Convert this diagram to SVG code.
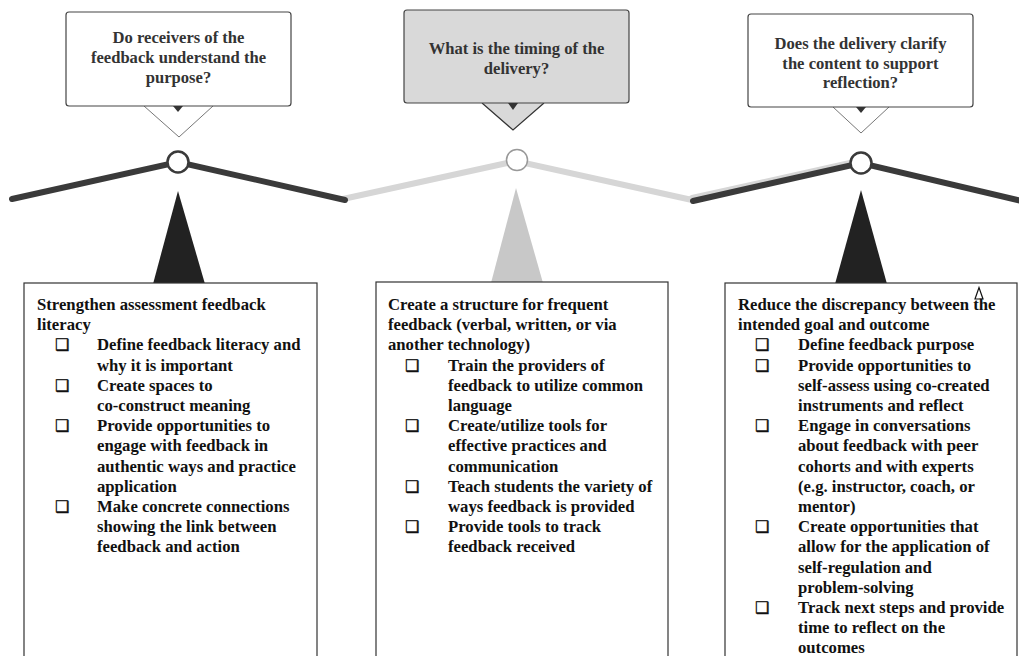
<svg xmlns="http://www.w3.org/2000/svg" width="1019" height="656" viewBox="0 0 1019 656">
<style>
.q{font-family:"Liberation Serif","Times New Roman",serif;font-weight:bold;font-size:16.6px;fill:#333;text-anchor:middle}
.t{font-family:"Liberation Serif","Times New Roman",serif;font-weight:bold;font-size:16.7px;fill:#111}
.b{font-family:"DejaVu Sans",sans-serif;font-size:16px;fill:#111;stroke:#111;stroke-width:0.4}
.call{fill:#fff;stroke:#444;stroke-width:1.2}
.ptr{fill:#fff;stroke:#777;stroke-width:1}
.box{fill:#fff;stroke:#333;stroke-width:1.2}
.dk{stroke:#3a3a3a;stroke-width:6;stroke-linecap:round;fill:none}
.lt{stroke:#d6d6d6;stroke-width:6;stroke-linecap:round;fill:none}
</style>
<rect width="1019" height="656" fill="#fff"/>
<g id="connectors">
  <polyline class="lt" points="343,199 516,161 692,200"/>
  <polyline class="lt" points="692,198 850,163"/>
  <polyline class="dk" points="12,199 178,162 345,200"/>
  <polyline class="dk" points="693,201 861,163 1030,203"/>
</g>
<g id="pivot1">
  <polygon points="178,191 153,284 205,284" fill="#222"/>
  <circle cx="178" cy="162" r="10.5" fill="#fff" stroke="#3a3a3a" stroke-width="2.5"/>
</g>
<g id="pivot2">
  <polygon points="516,188 491,283 543,283" fill="#c8c8c8"/>
  <circle cx="517" cy="160" r="10.5" fill="#fff" stroke="#999" stroke-width="1.5"/>
</g>
<g id="pivot3">
  <polygon points="861,190 835,284 887,284" fill="#222"/>
  <circle cx="861" cy="163" r="10.5" fill="#fff" stroke="#3a3a3a" stroke-width="2.5"/>
</g>
<g id="q1">
  <path class="ptr" d="M144,106 L179,137 L213,106"/>
  <rect class="call" x="66" y="12" width="225" height="94" rx="3"/>
  <polygon points="173,106 183,106 178,112" fill="#333"/>
  <text class="q" x="178.5" y="43">Do receivers of the</text>
  <text class="q" x="178.5" y="63">feedback understand the</text>
  <text class="q" x="178.5" y="83">purpose?</text>
</g>
<g id="q2">
  <path d="M482,103 L513,130 L544,103" fill="#d9d9d9" stroke="#333" stroke-width="1.2"/>
  <rect x="404" y="10" width="225" height="93" rx="3" fill="#d9d9d9" stroke="#444" stroke-width="1.2"/>
  <polygon points="508,103 518,103 513,110" fill="#333"/>
  <text class="q" x="516.5" y="54">What is the timing of the</text>
  <text class="q" x="516.5" y="74">delivery?</text>
</g>
<g id="q3">
  <path class="ptr" d="M833,107 L861,133 L889,107"/>
  <rect class="call" x="748" y="14" width="225" height="93" rx="3"/>
  <polygon points="856,107 866,107 861,113" fill="#333"/>
  <text class="q" x="860.5" y="49">Does the delivery clarify</text>
  <text class="q" x="860.5" y="69">the content to support</text>
  <text class="q" x="860.5" y="88">reflection?</text>
</g>
<g id="box1">
  <rect class="box" x="24" y="283" width="293" height="400"/>
  <text class="t" x="37" y="310">Strengthen assessment feedback</text>
  <text class="t" x="37" y="330.2">literacy</text>
  <text class="b" x="55" y="350.4">❑</text>
  <text class="t" x="97" y="350.4">Define feedback literacy and</text>
  <text class="t" x="97" y="370.6">why it is important</text>
  <text class="b" x="55" y="390.8">❑</text>
  <text class="t" x="97" y="390.8">Create spaces to</text>
  <text class="t" x="97" y="411">co-construct meaning</text>
  <text class="b" x="55" y="431.2">❑</text>
  <text class="t" x="97" y="431.2">Provide opportunities to</text>
  <text class="t" x="97" y="451.4">engage with feedback in</text>
  <text class="t" x="97" y="471.6">authentic ways and practice</text>
  <text class="t" x="97" y="491.8">application</text>
  <text class="b" x="55" y="512">❑</text>
  <text class="t" x="97" y="512">Make concrete connections</text>
  <text class="t" x="97" y="532.2">showing the link between</text>
  <text class="t" x="97" y="552.4">feedback and action</text>
</g>
<g id="box2">
  <rect class="box" x="376" y="282" width="292" height="400"/>
  <text class="t" x="388" y="310">Create a structure for frequent</text>
  <text class="t" x="388" y="330.2">feedback (verbal, written, or via</text>
  <text class="t" x="388" y="350.4">another technology)</text>
  <text class="b" x="405" y="370.6">❑</text>
  <text class="t" x="448" y="370.6">Train the providers of</text>
  <text class="t" x="448" y="390.8">feedback to utilize common</text>
  <text class="t" x="448" y="411">language</text>
  <text class="b" x="405" y="431.2">❑</text>
  <text class="t" x="448" y="431.2">Create/utilize tools for</text>
  <text class="t" x="448" y="451.4">effective practices and</text>
  <text class="t" x="448" y="471.6">communication</text>
  <text class="b" x="405" y="491.8">❑</text>
  <text class="t" x="448" y="491.8">Teach students the variety of</text>
  <text class="t" x="448" y="512">ways feedback is provided</text>
  <text class="b" x="405" y="532.2">❑</text>
  <text class="t" x="448" y="532.2">Provide tools to track</text>
  <text class="t" x="448" y="552.4">feedback received</text>
</g>
<g id="box3">
  <rect class="box" x="725" y="283" width="292" height="400"/>
  <text class="t" x="738" y="310">Reduce the discrepancy between the</text>
  <text class="t" x="738" y="330.2">intended goal and outcome</text>
  <text class="b" x="755" y="350.4">❑</text>
  <text class="t" x="798" y="350.4">Define feedback purpose</text>
  <text class="b" x="755" y="370.6">❑</text>
  <text class="t" x="798" y="370.6">Provide opportunities to</text>
  <text class="t" x="798" y="390.8">self-assess using co-created</text>
  <text class="t" x="798" y="411">instruments and reflect</text>
  <text class="b" x="755" y="431.2">❑</text>
  <text class="t" x="798" y="431.2">Engage in conversations</text>
  <text class="t" x="798" y="451.4">about feedback with peer</text>
  <text class="t" x="798" y="471.6">cohorts and with experts</text>
  <text class="t" x="798" y="491.8">(e.g. instructor, coach, or</text>
  <text class="t" x="798" y="512">mentor)</text>
  <text class="b" x="755" y="532.2">❑</text>
  <text class="t" x="798" y="532.2">Create opportunities that</text>
  <text class="t" x="798" y="552.4">allow for the application of</text>
  <text class="t" x="798" y="572.6">self-regulation and</text>
  <text class="t" x="798" y="592.8">problem-solving</text>
  <text class="b" x="755" y="613">❑</text>
  <text class="t" x="798" y="613">Track next steps and provide</text>
  <text class="t" x="798" y="633.2">time to reflect on the</text>
  <text class="t" x="798" y="653.4">outcomes</text>
  <path d="M975,299 L979,287.5 L983,299 Z" fill="#fff" fill-opacity="0.6" stroke="#111" stroke-width="1.2"/>
</g>
</svg>
